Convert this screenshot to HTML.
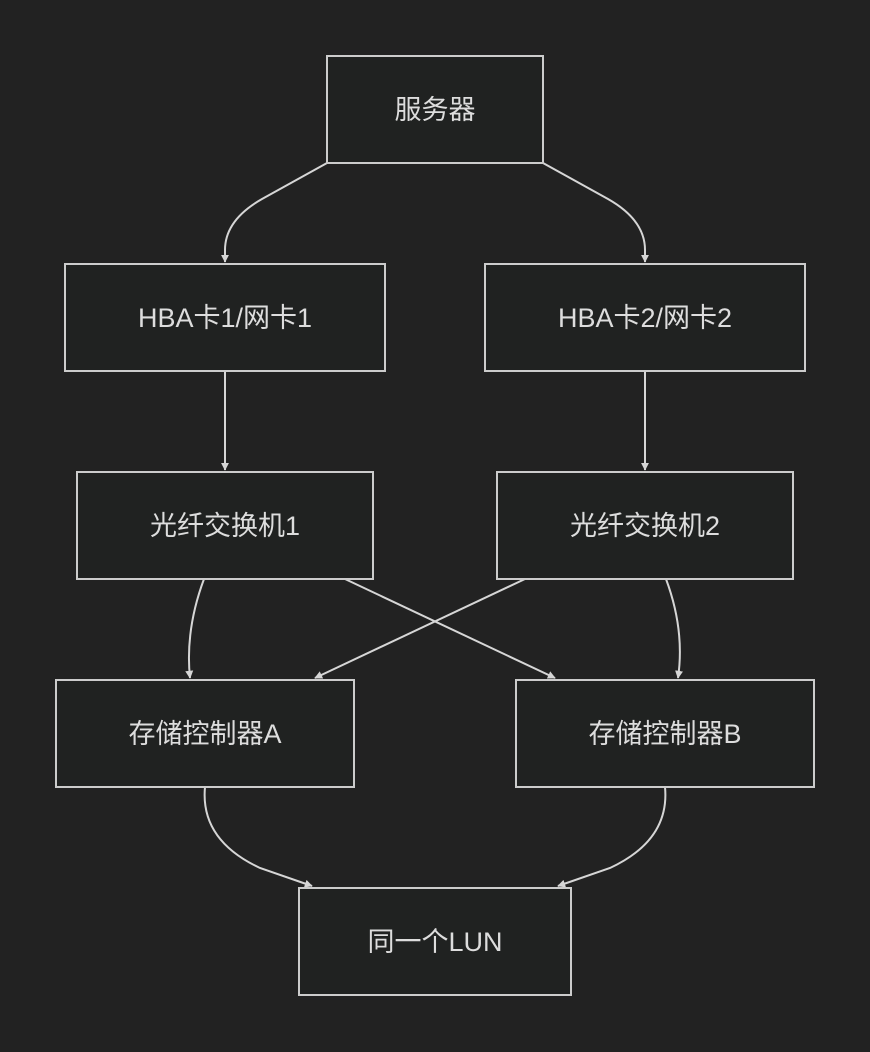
<!DOCTYPE html>
<html><head><meta charset="utf-8"><style>
html,body{margin:0;padding:0;background:#222222;}
svg{display:block}
text{font-family:"Liberation Sans","Noto Sans CJK SC",sans-serif;font-size:27px;fill:#dddddd;text-anchor:middle;dominant-baseline:central}
rect{fill:#202221;stroke:#cccccc;stroke-width:2}
path{fill:none;stroke:#d6d6d6;stroke-width:2}
</style></head><body>
<svg width="870" height="1052" viewBox="0 0 870 1052">
<defs><marker id="a" viewBox="0 0 10 10" refX="9" refY="5" markerWidth="8" markerHeight="8" markerUnits="userSpaceOnUse" orient="auto"><path d="M0,0L10,5L0,10z" style="fill:#d6d6d6;stroke:none"/></marker></defs>
<path d="M327,163 L262,199 Q225,220 225,250 L225,262" marker-end="url(#a)"/>
<path d="M543,163 L608,199 Q645,220 645,250 L645,262" marker-end="url(#a)"/>
<path d="M225,371 L225,470" marker-end="url(#a)"/>
<path d="M645,371 L645,470" marker-end="url(#a)"/>
<path d="M204,579 Q185,630 190,678" marker-end="url(#a)"/>
<path d="M666,579 Q685,630 678,678" marker-end="url(#a)"/>
<path d="M345,579 L555,678" marker-end="url(#a)"/>
<path d="M525,579 L315,678" marker-end="url(#a)"/>
<path d="M205,787 Q200,840 260,868 L312,886" marker-end="url(#a)"/>
<path d="M665,787 Q670,840 610,868 L558,886" marker-end="url(#a)"/>
<rect x="327" y="56" width="216" height="107"/><text x="435" y="110">服务器</text>
<rect x="65" y="264" width="320" height="107"/><text x="225" y="318">HBA卡1/网卡1</text>
<rect x="485" y="264" width="320" height="107"/><text x="645" y="318">HBA卡2/网卡2</text>
<rect x="77" y="472" width="296" height="107"/><text x="225" y="526">光纤交换机1</text>
<rect x="497" y="472" width="296" height="107"/><text x="645" y="526">光纤交换机2</text>
<rect x="56" y="680" width="298" height="107"/><text x="205" y="734">存储控制器A</text>
<rect x="516" y="680" width="298" height="107"/><text x="665" y="734">存储控制器B</text>
<rect x="299" y="888" width="272" height="107"/><text x="435" y="942">同一个LUN</text>
</svg>
</body></html>
